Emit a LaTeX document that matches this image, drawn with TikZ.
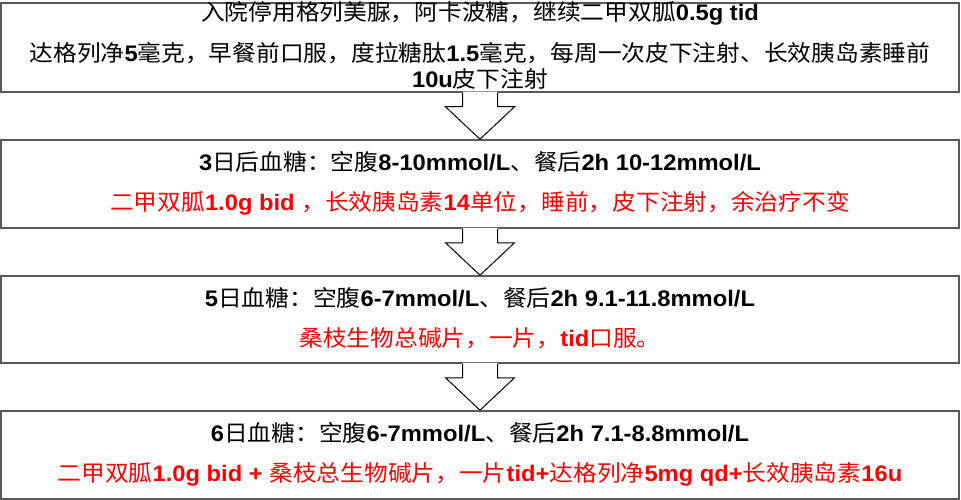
\documentclass[tikz,border=0pt]{standalone}
\usepackage{fontspec}
\setmainfont{Liberation Sans}[FakeStretch=1.055]
\newfontfamily\cjkf{Noto Sans CJK SC}[FakeStretch=1.055]
\usetikzlibrary{calc}
\newcommand\zhc[1]{{\cjkf #1}}
\newcommand\lat[1]{{\bfseries #1}}
\definecolor{boxgray}{RGB}{90,90,90}
\definecolor{txtred}{RGB}{255,0,0}
\tikzset{
  box/.style={draw=boxgray, line width=1.5pt, fill=white, rectangle, minimum width=958pt, inner sep=0pt},
  txt/.style={anchor=base, inner sep=0pt, text=black},
  redtxt/.style={txt, text=txtred},
  arrowline/.style={draw=black, line width=1pt, line join=miter},
}
\newcommand\blkarrow[2]{%
  \fill[white] ($(#1.south)+(-17.5,-1)$) -- ($(#1.south)+(-17.5,14)$) -- ($(#1.south)+(-34.5,14)$) -- (#2.north) -- ($(#1.south)+(34.5,14)$) -- ($(#1.south)+(17.5,14)$) -- ($(#1.south)+(17.5,-1)$) -- cycle;
  \draw[arrowline] ($(#1.south)+(-17.5,0)$) -- ($(#1.south)+(-17.5,14)$) -- ($(#1.south)+(-34.5,14)$) -- (#2.north) -- ($(#1.south)+(34.5,14)$) -- ($(#1.south)+(17.5,14)$) -- ($(#1.south)+(17.5,0)$);
}
\begin{document}
\begin{tikzpicture}[x=1pt, y=-1pt, every node/.style={font=\fontsize{22.5pt}{27pt}\selectfont}]
\useasboundingbox (0,0) rectangle (961,500);
\fill[white] (0,0) rectangle (961,500);
% boxes
\node[box, minimum height=89pt] (b1) at (480,47.5) {};
\node[box, minimum height=88pt] (b2) at (480,184) {};
\node[box, minimum height=87pt] (b3) at (480,319.5) {};
\node[box, minimum height=88pt] (b4) at (480,455) {};
% arrows
\blkarrow{b1}{b2}
\blkarrow{b2}{b3}
\blkarrow{b3}{b4}
% texts
\node[txt] (t1a) at ($(b1.north)+(0,18.5)$) {\zhc{入院停用格列美脲，阿卡波糖，继续二甲双胍}\lat{0.5g tid}};
\node[txt] (t1b) at ($(b1.north)+(0,59)$) {\zhc{达格列净}\lat{5}\zhc{毫克，早餐前口服，度拉糖肽}\lat{1.5}\zhc{毫克，每周一次皮下注射、长效胰岛素睡前}};
\node[txt] (t1c) at ($(b1.north)+(0,85.5)$) {\lat{10u}\zhc{皮下注射}};
\node[txt] (t2a) at ($(b2.north)+(0,31.5)$) {\lat{3}\zhc{日后血糖：空腹}\lat{8-10mmol/L}\zhc{、餐后}\lat{2h 10-12mmol/L}};
\node[redtxt] (t2b) at ($(b2.north)+(0,71.5)$) {\zhc{二甲双胍}\lat{1.0g bid }\zhc{，长效胰岛素}\lat{14}\zhc{单位，睡前，皮下注射，余治疗不变}};
\node[txt] (t3a) at ($(b3.north)+(0,31.5)$) {\lat{5}\zhc{日血糖：空腹}\lat{6-7mmol/L}\zhc{、餐后}\lat{2h 9.1-11.8mmol/L}};
\node[redtxt] (t3b) at ($(b3.north)+(0,71.5)$) {\zhc{桑枝生物总碱片，一片，}\lat{tid}\zhc{口服。}};
\node[txt] (t4a) at ($(b4.north)+(0,31.5)$) {\lat{6}\zhc{日血糖：空腹}\lat{6-7mmol/L}\zhc{、餐后}\lat{2h 7.1-8.8mmol/L}};
\node[redtxt] (t4b) at ($(b4.north)+(0,71.5)$) {\zhc{二甲双胍}\lat{1.0g bid + }\zhc{桑枝总生物碱片，一片}\lat{tid+}\zhc{达格列净}\lat{5mg qd+}\zhc{长效胰岛素}\lat{16u}};
\end{tikzpicture}
\end{document}
